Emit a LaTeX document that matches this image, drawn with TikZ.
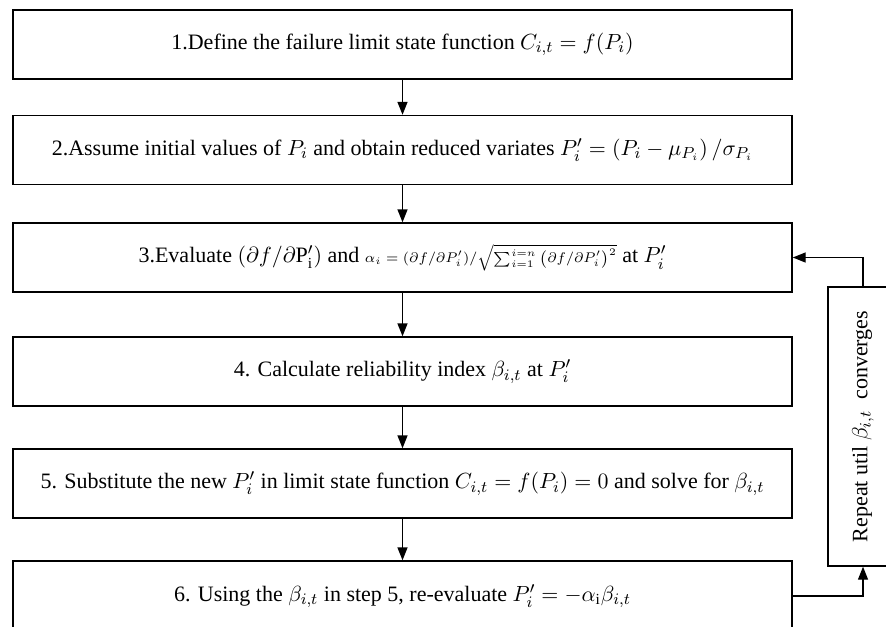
\documentclass[tikz,border=0pt]{standalone}
\usepackage{amsmath,amssymb}
\usepackage{fontspec}
\setmainfont{Liberation Serif}
\usetikzlibrary{arrows.meta,positioning}

\tikzset{
  stepbox/.style={draw,line width=.7pt,minimum width=389.5pt,minimum height=34.5pt,inner sep=0pt},
  repbox/.style={draw,line width=.7pt,minimum width=35pt,minimum height=139.5pt,inner sep=0pt},
  flow/.style={line width=.7pt,-{Triangle[length=6.5pt,width=5pt]}}
}

\begin{document}
\begin{tikzpicture}[x=.5pt,y=-.5pt,font=\fontsize{11}{13}\selectfont]
    \useasboundingbox (0,0) rectangle (886,626);
    % steps of the iteration
    \node[stepbox] (def) at (402.5,44.5) {1.Define the failure limit state function $C_{i,t}=f(P_i)$};
    \node[stepbox] (init) at (402.5,150) {2.Assume initial values of $P_i$ and obtain reduced variates $P_i'=\left(P_i-\mu_{P_i}\right)/\sigma_{P_i}$};
    \node[stepbox] (eval) at (402.5,257.5) {3.Evaluate $(\partial f/\partial \mathrm{P}_{\mathrm{i}}')$ and {\fontsize{7.3}{9}\selectfont$\alpha_i=(\partial f/\partial P_i')/\sqrt{\textstyle\sum_{i=1}^{i=n}\left(\partial f/\partial P_i'\right)^2}$} at $P_i'$};
    \node[stepbox] (calc) at (402.5,371.5) {4. Calculate reliability index $\beta_{i,t}$ at $P_i'$};
    \node[stepbox] (subs) at (402.5,483.5) {5. Substitute the new $P_i'$ in limit state function $C_{i,t}=f(P_i)=0$ and solve for $\beta_{i,t}$};
    \node[stepbox,minimum height=35pt] (upd) at (402.5,596) {6. Using the $\beta_{i,t}$ in step 5, re-evaluate $P_i'=-\mathrm{\alpha}_{\mathrm{i}}\beta_{i,t}$};
    % loop back
    \node[repbox] (rep) at (863,426.5) {\rotatebox{90}{Repeat util $\beta_{i,t}$\ \ converges}};
    \draw[flow] (def) -- (init);
    \draw[flow] (init) -- (eval);
    \draw[flow] (eval) -- (calc);
    \draw[flow] (calc) -- (subs);
    \draw[flow] (subs) -- (upd);
    \draw[flow] (upd.east) -| (rep.south);
    \draw[flow] (rep.north) |- (eval.east);
  \end{tikzpicture}
\end{document}
